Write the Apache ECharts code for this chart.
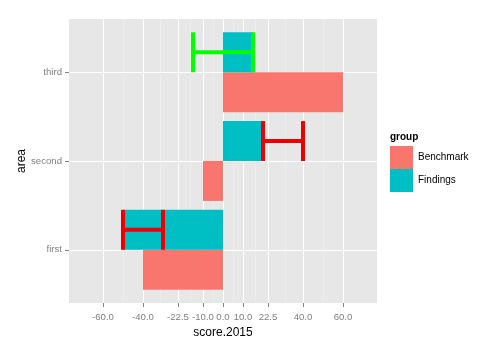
<!DOCTYPE html>
<html>
<head>
<meta charset="utf-8">
<script src="https://cdn.jsdelivr.net/npm/echarts@6/dist/echarts.min.js"></script>
<style>
  html, body { margin: 0; padding: 0; background: #ffffff; }
  #chart { width: 500px; height: 350px; }
</style>
</head>
<body>
<div id="chart"></div>
<script>
// ---- data ----
const categories = ['first', 'second', 'third'];
const groups = ['Benchmark', 'Findings'];
const benchmark = [-40, -10, 60];
const findings = [-50, 20, 15];
const errLow = [-50, 20, -15];
const errHigh = [-30, 40, 15];
const xTicks = [-60, -40, -22.5, -10, 0, 10, 22.5, 40, 60];

// ---- styling ----
const FONT = '"Liberation Sans", Arial, sans-serif';
const PANEL_BG = '#E7E7E7';
const GRID_MAJOR = '#FFFFFF';
const GRID_MINOR = '#F2F2F2';
const AXIS_GREY = '#7F7F7F';
const groupColors = ['#F8766D', '#00BFC4'];
const errColors = ['#EE0000', '#EE0000', '#00FF00'];
const DODGE = 0.9;            // total dodged width in category units
const HALF = DODGE / 2;       // width of one bar
const X_MIN = -77, X_MAX = 77;

// minor grid breaks sit halfway between the major ones
const xMinor = [];
for (let i = 0; i < xTicks.length - 1; i++) xMinor.push((xTicks[i] + xTicks[i + 1]) / 2);

const catPos = categories.map((c, i) => i + 1);

// bar rectangles: side -1 -> below the category line, +1 -> above it
function barRenderer(side) {
  return function (params, api) {
    const pos = api.value(0);
    const v = api.value(1);
    const yLo = side > 0 ? pos : pos - HALF;
    const yHi = side > 0 ? pos + HALF : pos;
    const a = api.coord([0, yHi]);
    const b = api.coord([v, yLo]);
    return {
      type: 'rect',
      shape: { x: Math.min(a[0], b[0]), y: a[1], width: Math.abs(b[0] - a[0]), height: b[1] - a[1] },
      style: { fill: api.visual('color') }
    };
  };
}

// error bars drawn over the upper (Findings) bar of each category
function errRenderer(params, api) {
  const pos = api.value(0);
  const lo = api.value(1);
  const hi = api.value(2);
  const yMid = pos + HALF / 2;
  const pL = api.coord([lo, yMid]);
  const pR = api.coord([hi, yMid]);
  const top = api.coord([lo, pos + HALF])[1];
  const bot = api.coord([lo, pos])[1];
  const color = errColors[params.dataIndex];
  const style = { stroke: color, lineWidth: 4, lineCap: 'butt' };
  return {
    type: 'group',
    children: [
      { type: 'line', shape: { x1: pL[0], y1: pL[1], x2: pR[0], y2: pR[1] }, style },
      { type: 'line', shape: { x1: pL[0], y1: top, x2: pL[0], y2: bot }, style },
      { type: 'line', shape: { x1: pR[0], y1: top, x2: pR[0], y2: bot }, style }
    ]
  };
}

const chart = echarts.init(document.getElementById('chart'), null, { renderer: 'canvas' });

chart.setOption({
  animation: false,
  backgroundColor: '#ffffff',
  textStyle: { fontFamily: FONT },
  grid: {
    left: 69, right: 123, top: 19, bottom: 47,
    show: true, backgroundColor: PANEL_BG, borderWidth: 0
  },
  graphic: [
    {
      type: 'text', left: 390, top: 132,
      style: { text: 'group', font: 'bold 10px ' + FONT, fill: '#000000' }
    }
  ],
  legend: {
    data: groups,
    orient: 'vertical',
    left: 390, top: 146,
    padding: 0, itemGap: 0,
    itemWidth: 23, itemHeight: 23,
    icon: 'rect',
    textStyle: { fontFamily: FONT, fontSize: 10, color: '#000000' },
    selectedMode: false
  },
  xAxis: [
    {
      type: 'value', min: X_MIN, max: X_MAX,
      name: 'score.2015', nameLocation: 'middle', nameGap: 24, nameMoveOverlap: false,
      nameTextStyle: { fontFamily: FONT, fontSize: 12, color: '#000000' },
      axisLine: { show: false, onZero: false },
      axisTick: { show: true, length: 4, customValues: xTicks, lineStyle: { color: AXIS_GREY } },
      axisLabel: {
        customValues: xTicks, margin: 9,
        fontFamily: FONT, fontSize: 9.6, color: AXIS_GREY,
        formatter: v => v.toFixed(1)
      },
      splitLine: { show: true, lineStyle: { color: GRID_MAJOR, width: 1 } },
      z: 1
    },
    {
      type: 'value', min: X_MIN, max: X_MAX, position: 'top',
      axisLine: { show: false, onZero: false },
      axisTick: { show: false, customValues: xMinor },
      axisLabel: { show: false, customValues: xMinor },
      splitLine: { show: true, lineStyle: { color: GRID_MINOR, width: 0.6 } },
      z: 0
    }
  ],
  yAxis: {
    type: 'value', min: 0.4, max: 3.6,
    name: 'area', nameLocation: 'middle', nameGap: 41, nameRotate: 90, nameMoveOverlap: false,
    nameTextStyle: { fontFamily: FONT, fontSize: 12, color: '#000000' },
    axisLine: { show: false, onZero: false },
    axisTick: { show: true, length: 4, customValues: catPos, lineStyle: { color: AXIS_GREY } },
    axisLabel: {
      customValues: catPos, margin: 7,
      fontFamily: FONT, fontSize: 9.6, color: AXIS_GREY,
      formatter: v => categories[Math.round(v) - 1] || ''
    },
    splitLine: { show: true, lineStyle: { color: GRID_MAJOR, width: 1 } }
  },
  series: [
    {
      name: groups[0], type: 'custom', xAxisIndex: 0,
      itemStyle: { color: groupColors[0] },
      renderItem: barRenderer(-1),
      encode: { x: 1, y: 0 },
      data: benchmark.map((v, i) => [catPos[i], v]),
      z: 3
    },
    {
      name: groups[1], type: 'custom', xAxisIndex: 0,
      itemStyle: { color: groupColors[1] },
      renderItem: barRenderer(1),
      encode: { x: 1, y: 0 },
      data: findings.map((v, i) => [catPos[i], v]),
      z: 3
    },
    {
      name: 'error', type: 'custom', xAxisIndex: 0,
      renderItem: errRenderer,
      encode: { x: [1, 2], y: 0 },
      data: errLow.map((v, i) => [catPos[i], v, errHigh[i]]),
      z: 4
    }
  ]
});
</script>
</body>
</html>
